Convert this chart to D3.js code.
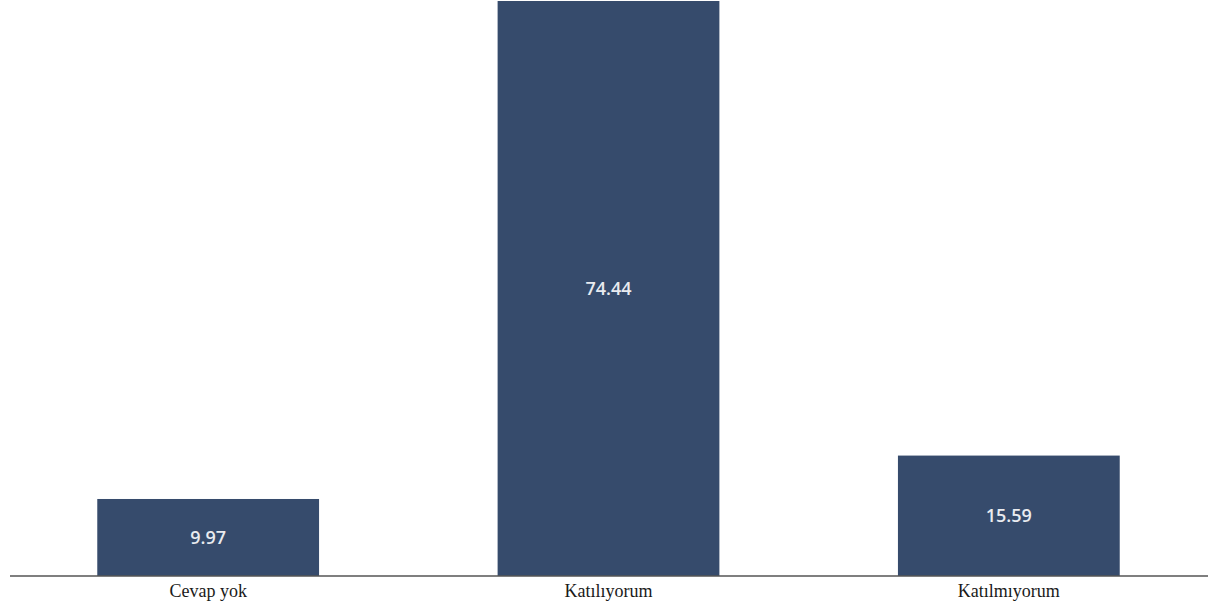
<!DOCTYPE html>
<html><head><meta charset="utf-8">
<script src="https://cdn.jsdelivr.net/npm/d3@7"></script>
<style>html,body{margin:0;padding:0;background:#fff;}</style>
</head><body>
<svg id="chart" width="1208" height="607"></svg>
<script>
const categories = ["Cevap yok", "Katılıyorum", "Katılmıyorum"];
const values = [9.97, 74.44, 15.59];
const valueLabels = ["9.97", "74.44", "15.59"];

const svg = d3.select("#chart");
const baseY = 576;
const x = d3.scaleBand().domain(categories).range([8, 1209]).paddingInner(0.446).paddingOuter(0.223);
const y = d3.scaleLinear().domain([0, 74.44]).range([baseY, 1]);

svg.selectAll("rect.bar").data(values).join("rect")
  .attr("class", "bar")
  .attr("x", (d, i) => x(categories[i]))
  .attr("width", x.bandwidth())
  .attr("y", d => y(d))
  .attr("height", d => baseY - y(d))
  .attr("fill", "#364b6c");

svg.selectAll("text.val").data(values).join("text")
  .attr("class", "val")
  .attr("x", (d, i) => x(categories[i]) + x.bandwidth() / 2)
  .attr("y", d => (y(d) + baseY) / 2)
  .attr("dy", "0.35em")
  .attr("text-anchor", "middle")
  .attr("font-family", "'Open Sans', sans-serif")
  .attr("font-weight", 600)
  .attr("font-size", 18)
  .attr("fill", "#e9ebf0")
  .text((d, i) => valueLabels[i]);

const axis = d3.axisBottom(x).tickSize(0).tickPadding(8);
const g = svg.append("g").attr("transform", `translate(0,${baseY})`).call(axis);
g.select(".domain").attr("stroke", "#555").attr("stroke-width", 1.5).attr("d", "M10,0H1208");
g.selectAll("text")
  .attr("font-family", "'Liberation Serif', 'Times New Roman', serif")
  .attr("font-size", 18)
  .attr("fill", "#1a1a1a");
</script>
</body></html>
